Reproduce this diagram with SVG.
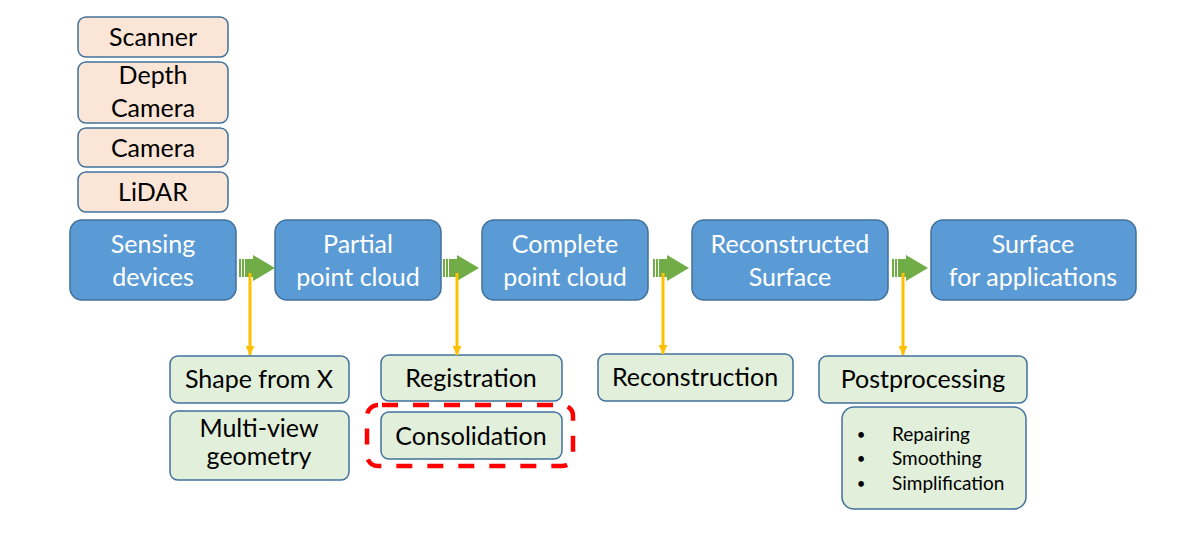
<svg xmlns="http://www.w3.org/2000/svg" width="1198" height="536" viewBox="0 0 1198 536">
<style>
text{font-family:Lato,"Liberation Sans",sans-serif;text-anchor:middle}
.src rect{fill:#FBE5D6;stroke:#41719C;stroke-width:1.5}
.src text{font-size:25px;fill:#000}
.main rect{fill:#5B9BD5;stroke:#41719C;stroke-width:1.5}
.main text{font-size:25px;fill:#fff}
.step rect{fill:#E2EFDA;stroke:#41719C;stroke-width:1.5}
.step text{font-size:25px;fill:#000}
.bul text{font-size:19px;text-anchor:start}
.bul text.dot{font-size:15px;text-anchor:middle}
.flow{fill:#70AD47}
.down{stroke:#FFC000;stroke-width:3;fill:none}
</style>
<defs>
<marker id="yh" viewBox="0 0 10 10" refX="10" refY="5" markerWidth="10" markerHeight="9" markerUnits="userSpaceOnUse" orient="auto">
<path d="M0,0 L10,5 L0,10 z" fill="#FFC000"/>
</marker>
<g id="garrow">
<rect x="0" y="-9" width="2" height="18"/>
<rect x="3" y="-9" width="2" height="18"/>
<rect x="6" y="-9" width="9" height="18"/>
<path d="M14,-13 L36,0 L14,13 z"/>
</g>
</defs>
<rect width="1198" height="536" fill="#fff"/>

<g id="scanner" class="src"><rect x="78" y="17" width="150" height="40" rx="8"/><text x="153" y="46">Scanner</text></g>
<g id="depth-camera" class="src"><rect x="78" y="62" width="150" height="61" rx="8"/><text x="153" y="84">Depth</text><text x="153" y="117">Camera</text></g>
<g id="camera" class="src"><rect x="78" y="128" width="150" height="39" rx="8"/><text x="153" y="157">Camera</text></g>
<g id="lidar" class="src"><rect x="78" y="172" width="150" height="40" rx="8"/><text x="153" y="201">LiDAR</text></g>

<g id="sensing-devices" class="main"><rect x="70" y="220" width="166" height="80" rx="12"/><text x="153" y="253">Sensing</text><text x="153" y="286">devices</text></g>
<g id="partial-point-cloud" class="main"><rect x="275" y="220" width="166" height="80" rx="12"/><text x="358" y="253">Partial</text><text x="358" y="286">point cloud</text></g>
<g id="complete-point-cloud" class="main"><rect x="482" y="220" width="166" height="80" rx="12"/><text x="565" y="253">Complete</text><text x="565" y="286">point cloud</text></g>
<g id="reconstructed-surface" class="main"><rect x="692" y="220" width="196" height="80" rx="12"/><text x="790" y="253">Reconstructed</text><text x="790" y="286">Surface</text></g>
<g id="surface-applications" class="main"><rect x="931" y="220" width="205" height="80" rx="12"/><text x="1033" y="253">Surface</text><text x="1033" y="286">for applications</text></g>

<g id="shape-from-x" class="step"><rect x="170" y="356" width="179" height="47" rx="8"/><text x="259" y="388">Shape from X</text></g>
<g id="multi-view-geometry" class="step"><rect x="170" y="411" width="179" height="69" rx="8"/><text x="259" y="437">Multi-view</text><text x="259" y="465">geometry</text></g>
<g id="registration" class="step"><rect x="381" y="355" width="181" height="46" rx="8"/><text x="471" y="387">Registration</text></g>
<g id="consolidation" class="step"><rect x="381" y="412" width="181" height="47" rx="8"/><text x="471" y="445">Consolidation</text></g>
<g id="highlight"><rect x="367" y="405" width="206" height="61" rx="11" fill="none" stroke="#FF0000" stroke-width="4.5" stroke-dasharray="16 15" stroke-dashoffset="-4"/></g>
<g id="reconstruction" class="step"><rect x="598" y="354" width="195" height="47" rx="8"/><text x="695" y="386">Reconstruction</text></g>
<g id="postprocessing" class="step"><rect x="819" y="356" width="208" height="47" rx="8"/><text x="923" y="388">Postprocessing</text></g>
<g id="post-details" class="step bul"><rect x="842" y="407" width="184" height="102" rx="12"/>
<text class="dot" x="861" y="440">•</text><text x="892" y="441">Repairing</text>
<text class="dot" x="861" y="464">•</text><text x="892" y="465">Smoothing</text>
<text class="dot" x="861" y="489">•</text><text x="892" y="490">Simplification</text></g>

<g id="connectors">
<use href="#garrow" class="flow" x="239" y="268"/>
<use href="#garrow" class="flow" x="443" y="268"/>
<use href="#garrow" class="flow" x="653" y="268"/>
<use href="#garrow" class="flow" x="892" y="268"/>
<line class="down" x1="250" y1="273" x2="250" y2="355" marker-end="url(#yh)"/>
<line class="down" x1="457" y1="273" x2="457" y2="355" marker-end="url(#yh)"/>
<line class="down" x1="663" y1="273" x2="663" y2="354" marker-end="url(#yh)"/>
<line class="down" x1="903" y1="273" x2="903" y2="355" marker-end="url(#yh)"/>
</g>
</svg>
